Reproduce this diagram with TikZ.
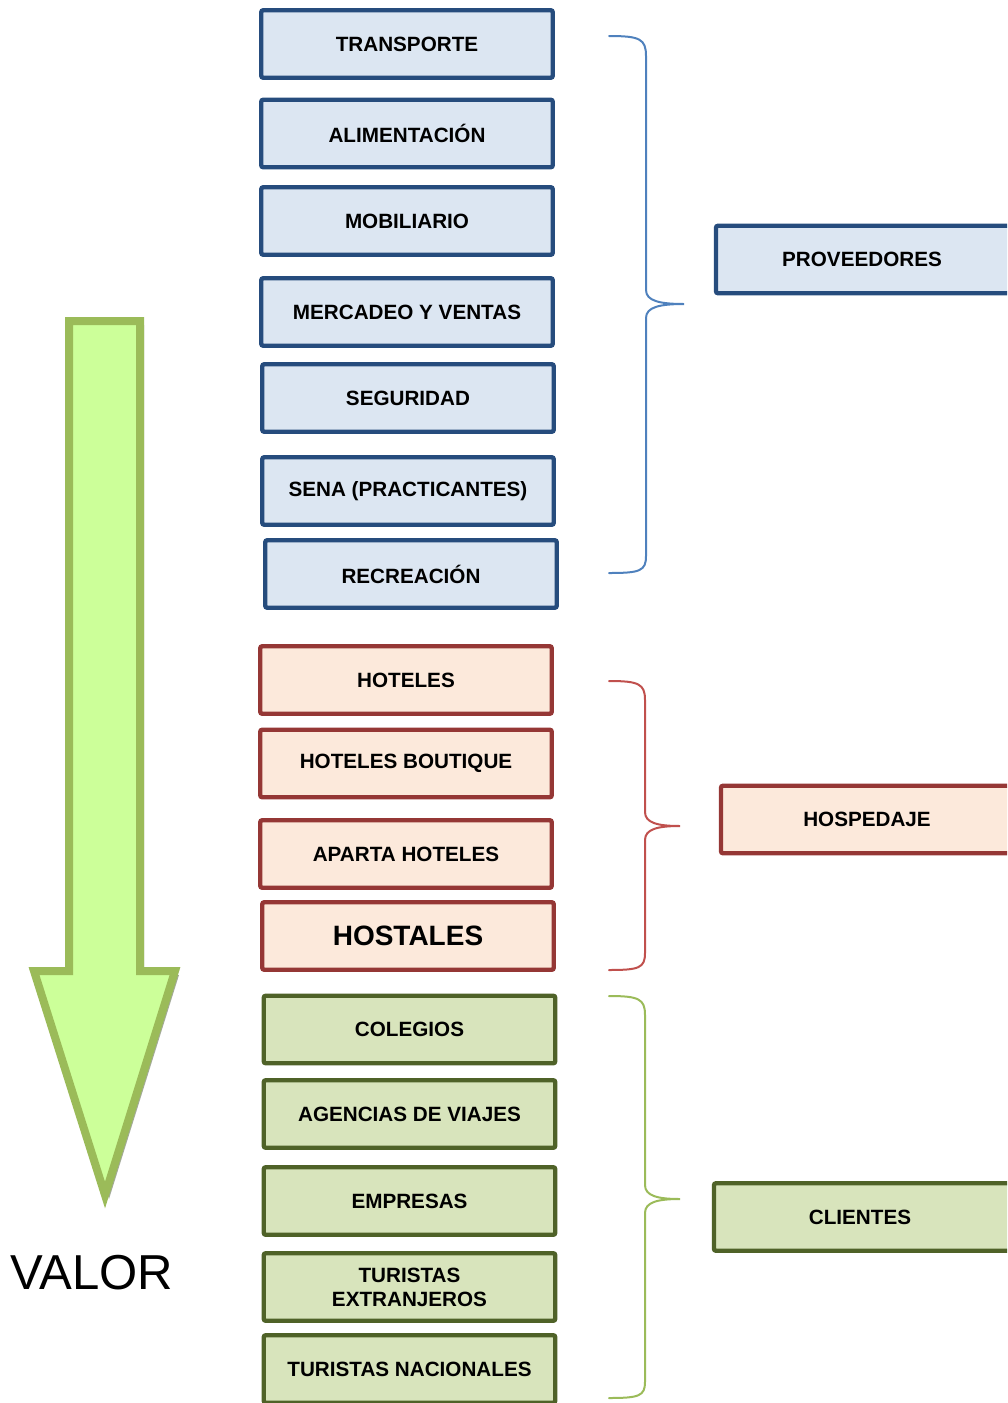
\documentclass[tikz,border=0pt]{standalone}
\usepackage{fontspec}
\setmainfont{Liberation Sans}
\definecolor{bluefill}{HTML}{DCE6F2}
\definecolor{blueline}{HTML}{264C7D}
\definecolor{bluebrace}{HTML}{4F81BD}
\definecolor{redfill}{HTML}{FCE9DB}
\definecolor{redline}{HTML}{953735}
\definecolor{redbrace}{HTML}{C0504D}
\definecolor{greenfill}{HTML}{D8E4BC}
\definecolor{greenline}{HTML}{4F6228}
\definecolor{greenbrace}{HTML}{9BBB59}
\definecolor{arrowfill}{HTML}{CCFF99}
\definecolor{arrowline}{HTML}{9BBB59}
\definecolor{arrowshadow}{HTML}{A3AA98}
\begin{document}
\begin{tikzpicture}[x=0.75pt,y=-0.75pt,
  box/.style={draw,line width=3.3pt,rounded corners=1.5pt,inner sep=0pt,
    minimum width=218.6pt,minimum height=50.6pt,align=center,
    font=\fontsize{15.5}{18}\selectfont\bfseries},
  bluebox/.style={box,draw=blueline,fill=bluefill},
  redbox/.style={box,draw=redline,fill=redfill},
  greenbox/.style={box,draw=greenline,fill=greenfill},
  groupbox/.style={minimum width=228pt},
  bracket/.style={line width=1.5pt,line cap=round}]
\useasboundingbox (0,0) rectangle (1007,1403);
\clip (0,0) rectangle (1007,1403);

% value arrow: shadow, then the arrow itself
\fill[arrowshadow] (73,325) -- (144,325) -- (144,975) -- (179,975) -- (109,1199) -- (38,975) -- (73,975) -- cycle;
\draw[line width=6pt,draw=arrowline,fill=arrowfill,miter limit=10]
  (69,321) -- (140,321) -- (140,971) -- (175,971) -- (105,1195) -- (34,971) -- (69,971) -- cycle;
\node[font=\fontsize{36.8}{42}\selectfont] (valor) at (92,1273) {VALOR};

% suppliers
\node[bluebox] (transporte) at (407,44) {TRANSPORTE};
\node[bluebox] (alimentacion) at (407,133.5) {ALIMENTACIÓN};
\node[bluebox] (mobiliario) at (407,221) {MOBILIARIO};
\node[bluebox] (mercadeo) at (407,312) {MERCADEO Y VENTAS};
\node[bluebox] (seguridad) at (408,398) {SEGURIDAD};
\node[bluebox] (sena) at (408,491) {SENA (PRACTICANTES)};
\node[bluebox] (recreacion) at (411,574) {RECREACIÓN};

% lodging
\node[redbox] (hoteles) at (406,680) {HOTELES};
\node[redbox] (boutique) at (406,763.5) {HOTELES BOUTIQUE};
\node[redbox] (aparta) at (406,854) {APARTA HOTELES};
\node[redbox,font=\fontsize{21}{24}\selectfont\bfseries] (hostales) at (408,936) {HOSTALES};

% customers
\node[greenbox] (colegios) at (409.5,1029.5) {COLEGIOS};
\node[greenbox] (agencias) at (409.5,1114) {AGENCIAS DE VIAJES};
\node[greenbox] (empresas) at (409.5,1201) {EMPRESAS};
\node[greenbox] (extranjeros) at (409.5,1287) {TURISTAS\\EXTRANJEROS};
\node[greenbox] (nacionales) at (409.5,1369) {TURISTAS NACIONALES};

% group boxes (running off the right edge; text pulled back left)
\node[bluebox,groupbox] (proveedores) at (868,259.5) {\hspace*{-9pt}PROVEEDORES};
\node[redbox,groupbox] (hospedaje) at (873,819.5) {\hspace*{-9pt}HOSPEDAJE};
\node[greenbox,groupbox] (clientes) at (866,1217) {\hspace*{-9pt}CLIENTES};

% braces
\draw[bracket,draw=bluebrace]
  (609,36) .. controls (640,36) and (646,39) .. (646,56) -- (646,290)
  .. controls (646,301) and (660,304) .. (684,304)
  .. controls (660,304) and (646,307) .. (646,318) -- (646,556)
  .. controls (646,571) and (640,573) .. (609,573);
\draw[bracket,draw=redbrace]
  (609,681) .. controls (639,681) and (645,684) .. (645,700) -- (645,812)
  .. controls (645,823) and (658,826) .. (680,826)
  .. controls (658,826) and (645,829) .. (645,840) -- (645,953)
  .. controls (645,968) and (639,970) .. (609,970);
\draw[bracket,draw=greenbrace]
  (609,996) .. controls (639,996) and (645,999) .. (645,1015) -- (645,1185)
  .. controls (645,1196) and (658,1199) .. (680,1199)
  .. controls (658,1199) and (645,1202) .. (645,1213) -- (645,1382)
  .. controls (645,1396) and (639,1398) .. (609,1398);
\end{tikzpicture}
\end{document}
